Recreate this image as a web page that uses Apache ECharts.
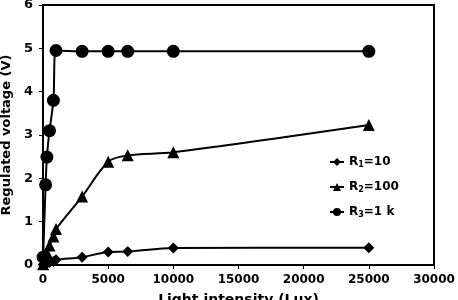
<!DOCTYPE html>
<html><head><meta charset="utf-8">
<script src="https://cdn.jsdelivr.net/npm/echarts@6/dist/echarts.min.js"></script>
<style>html,body{margin:0;padding:0;background:#fff}#c{width:458px;height:300px}</style>
</head><body><div id="c"></div>
<script>
var lux = [10, 200, 300, 500, 800, 1000, 3000, 5000, 6500, 10000, 25000];
var r1 = [0.01, 0.02, 0.04, 0.06, 0.08, 0.12, 0.18, 0.3, 0.31, 0.39, 0.4];
var r2 = [0.02, 0.12, 0.28, 0.45, 0.66, 0.83, 1.58, 2.38, 2.53, 2.6, 3.23];
var r3 = [0.18, 1.85, 2.49, 3.1, 3.8, 4.95, 4.93, 4.93, 4.93, 4.93, 4.93];
var xTicks = [0, 5000, 10000, 15000, 20000, 25000, 30000];
var yTicks = [0, 1, 2, 3, 4, 5, 6];
var names = ['R1', 'R2', 'R3'];
var legendText = {R1: '{b|R}{s|1}{b|=10}', R2: '{b|R}{s|2}{b|=100}', R3: '{b|R}{s|3}{b|=1 k}'};

function pairs(ys){ return lux.map(function(x,i){return [x, ys[i]];}); }
var font = 'DejaVu Sans';
var chart = echarts.init(document.getElementById('c'));
function mk(name, ys, sym, size){
  return {name: name, type: 'line', data: pairs(ys), smooth: 0.3, symbol: sym, symbolSize: size,
    itemStyle: {color: '#000'}, lineStyle: {color: '#000', width: 2}};
}
chart.setOption({
  animation: false,
  grid: {left: 43, right: 24, top: 5, bottom: 35, show: true, borderColor: '#000', borderWidth: 2,
    containLabel: false, outerBoundsMode: 'none'},
  legend: {
    orient: 'vertical', left: 324, top: 151, itemGap: 12, itemWidth: 14, itemHeight: 10,
    data: names,
    formatter: function(n){ return legendText[n]; },
    textStyle: {rich: {
      b: {fontFamily: font, fontWeight: 'bold', fontSize: 12, color: '#000'},
      s: {fontFamily: font, fontWeight: 'bold', fontSize: 8, color: '#000', verticalAlign: 'bottom', padding: [6,0,0,0]}
    }}
  },
  xAxis: {
    type: 'value', min: 0, max: 30000, interval: 5000,
    name: 'Light intensity (Lux)', nameLocation: 'middle', nameGap: 28,
    nameTextStyle: {fontFamily: font, fontWeight: 'bold', fontSize: 14, color: '#000'},
    axisLine: {lineStyle: {color: '#000', width: 2}},
    axisTick: {show: true, length: 4, lineStyle: {color: '#000'}},
    splitLine: {show: false},
    axisLabel: {fontFamily: font, fontWeight: 'bold', fontSize: 12, color: '#000', margin: 9,
      formatter: function(v){ return xTicks.indexOf(v) >= 0 ? String(v) : ''; }}
  },
  yAxis: {
    type: 'value', min: 0, max: 6, interval: 1,
    name: 'Regulated voltage (V)', nameLocation: 'middle', nameGap: 26,
    nameTextStyle: {fontFamily: font, fontWeight: 'bold', fontSize: 13, color: '#000'},
    axisLine: {show: true, lineStyle: {color: '#000', width: 2}},
    axisTick: {show: true, length: 4, lineStyle: {color: '#000'}},
    splitLine: {show: false},
    axisLabel: {fontFamily: font, fontWeight: 'bold', fontSize: 13, color: '#000', margin: 10,
      formatter: function(v){ return yTicks.indexOf(v) >= 0 ? String(v) : ''; }}
  },
  series: [
    mk('R1', r1, 'diamond', 11),
    mk('R2', r2, 'triangle', 12),
    mk('R3', r3, 'circle', 13)
  ]
});
</script></body></html>
